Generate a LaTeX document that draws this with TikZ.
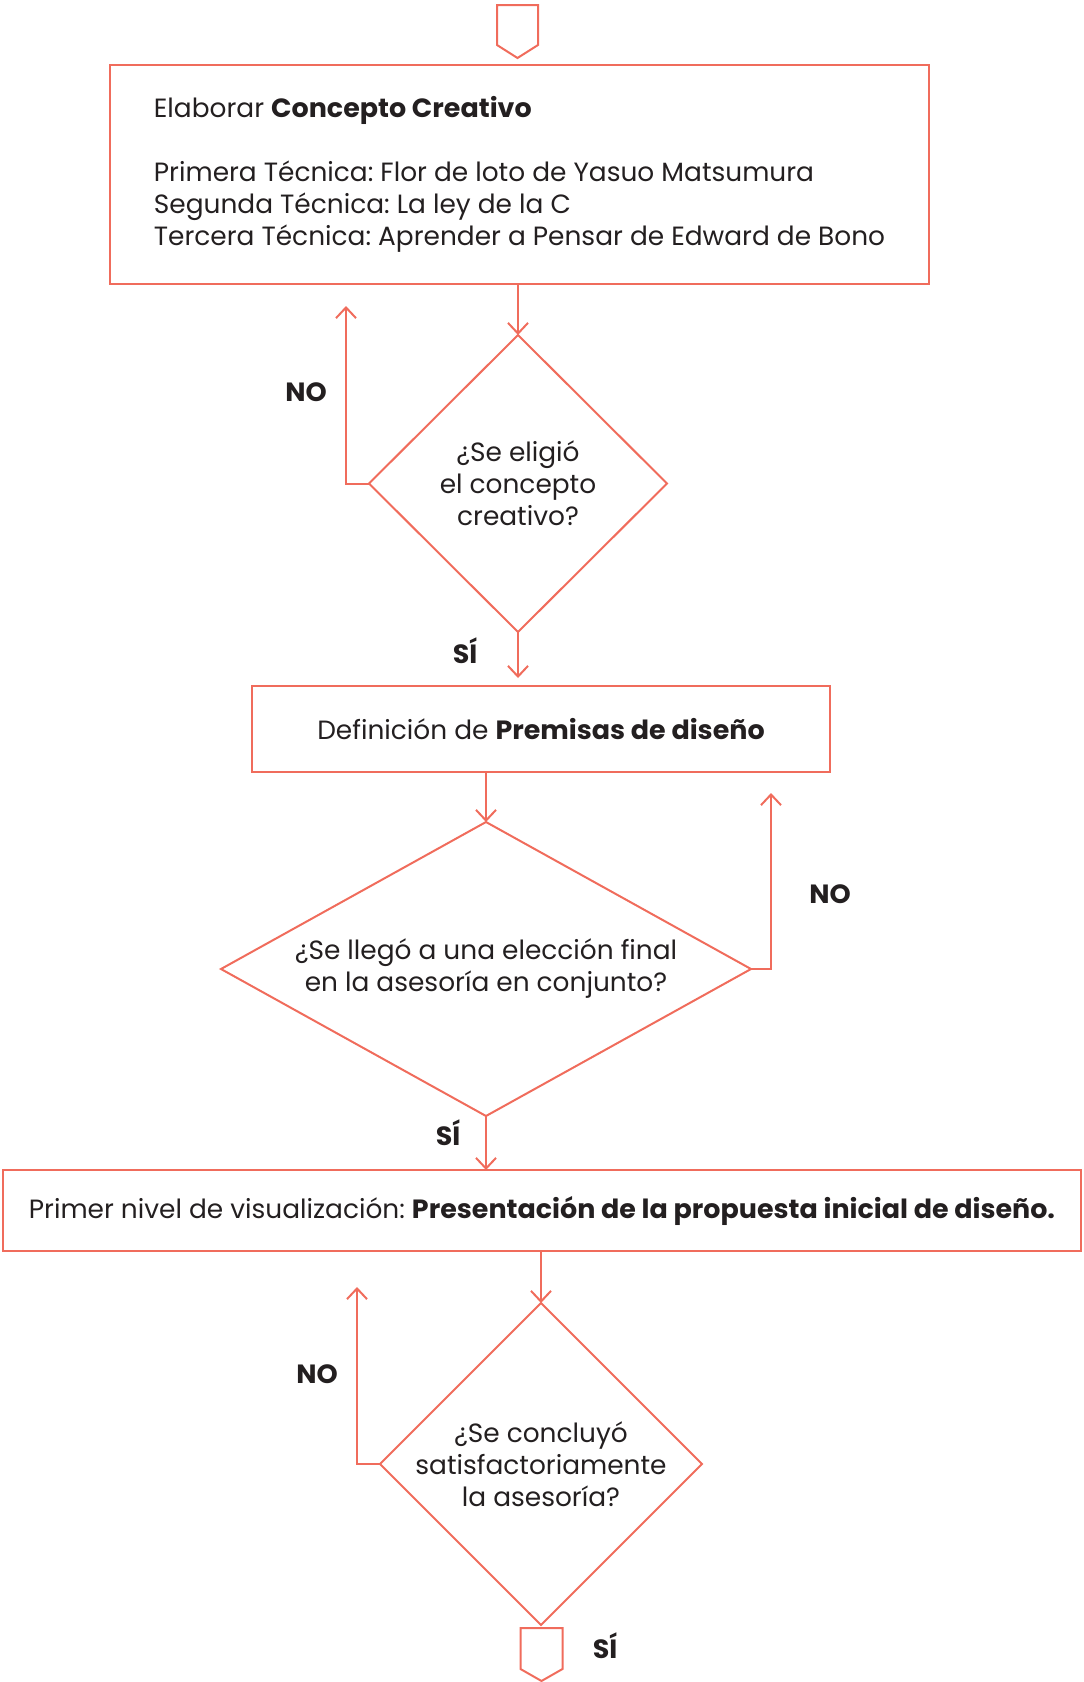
\documentclass[tikz,border=0pt]{standalone}
\usepackage{fontspec}
\setmainfont{Poppins}[BoldFeatures={FakeStretch=1.02}]
\usetikzlibrary{shapes.geometric,arrows.meta}
\definecolor{salmon}{RGB}{240,108,92}
\definecolor{ink}{RGB}{35,31,32}
\frenchspacing
\begin{document}
\begin{tikzpicture}[x=0.75pt,y=-0.75pt,
  salmonline/.style={draw=salmon,line width=1.5pt},
  bodyfont/.style={font=\fontsize{19.8}{24}\selectfont,text=ink},
  procbox/.style={salmonline,rectangle,inner sep=0pt,outer sep=0pt,bodyfont},
  decision/.style={salmonline,diamond,inner sep=0pt,outer sep=0pt,align=center,bodyfont},
  flow/.style={salmonline,-{Straight Barb[length=8pt,width=15pt]}},
  answer/.style={font=\bfseries\fontsize{19.8}{24}\selectfont,text=ink},
]
\useasboundingbox (0,0) rectangle (1083,1682);

% off-page connector at the start
\node[minimum width=30.75pt,minimum height=39.75pt,inner sep=0pt,outer sep=0pt] (start) at (517.5,31.5) {};
\draw[salmonline,line join=miter] (start.north west) -- (start.north east) -- ([yshift=9.75pt]start.south east)
  -- (start.south) -- ([yshift=9.75pt]start.south west) -- cycle;

% process boxes
\node[procbox,minimum width=614.25pt,minimum height=164.25pt,align=left] (concept) at (519.5,174.5)
  {Elaborar \textbf{Concepto Creativo}\\[24pt]
   Primera Técnica: Flor de loto de Yasuo Matsumura\\
   Segunda Técnica: La ley de la C\\
   Tercera Técnica: Aprender a Pensar de Edward de Bono};

\node[procbox,minimum width=433.5pt,minimum height=64.5pt] (premisas) at (541,729)
  {Definición de \textbf{Premisas de diseño}};

\node[procbox,minimum width=808.5pt,minimum height=60.75pt] (presentacion) at (542,1210.5)
  {Primer nivel de visualización: \textbf{Presentación de la propuesta inicial de diseño.}};

% decisions
\node[decision,minimum width=223.5pt,minimum height=222.75pt] (d1) at (518,483.5)
  {¿Se eligió\\el concepto\\creativo?};
\node[decision,aspect=1.8,minimum width=397.5pt,minimum height=220.5pt] (d2) at (486,969)
  {¿Se llegó a una elección final\\en la asesoría en conjunto?};
\node[decision,inner sep=-4pt,minimum width=241.5pt,minimum height=241.5pt] (d3) at (541,1464)
  {¿Se concluyó\\satisfactoriamente\\la asesoría?};

% off-page connector at the end
\node[minimum width=31.5pt,minimum height=39.75pt,inner sep=0pt,outer sep=0pt] (finish) at (541.5,1654.5) {};
\draw[salmonline,line join=miter] (finish.north west) -- (finish.north east) -- ([yshift=9pt]finish.south east)
  -- (finish.south) -- ([yshift=9pt]finish.south west) -- cycle;

% main flow
\draw[flow] (concept.south -| d1.north) -- (d1.north);
\draw[flow,shorten >=6pt] (d1.south) -- (d1.south |- premisas.north);
\draw[flow] (premisas.south -| d2.north) -- (d2.north);
\draw[flow] (d2.south) -- (d2.south |- presentacion.north);
\draw[flow] (presentacion.south -| d3.north) -- (d3.north);

% return branches
\coordinate (back1) at (346,306);
\coordinate (back2) at (771,793);
\coordinate (back3) at (357,1287);
\draw[flow] (d1.west) -| (back1);
\draw[flow] (d2.east) -| (back2);
\draw[flow] (d3.west) -| (back3);

% answers
\node[answer] (no1) at (306,392) {NO};
\node[answer] (si1) at (465,651) {SÍ};
\node[answer] (no2) at (830,894) {NO};
\node[answer] (si2) at (448,1133) {SÍ};
\node[answer] (no3) at (317,1374) {NO};
\node[answer] (si3) at (605,1646) {SÍ};
\end{tikzpicture}
\end{document}
